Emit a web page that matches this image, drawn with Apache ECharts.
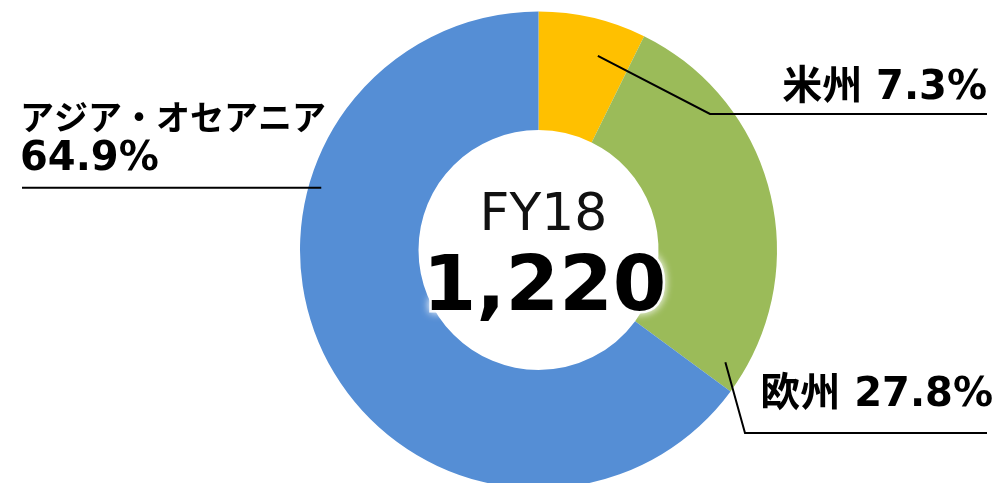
<!DOCTYPE html>
<html>
<head>
<meta charset="utf-8">
<script src="https://cdn.jsdelivr.net/npm/echarts@6/dist/echarts.min.js"></script>
<style>
  html, body { margin: 0; padding: 0; background: #fff; }
  #chart { width: 1002px; height: 483px; }
</style>
</head>
<body>
<div id="chart"></div>
<script>
// データ（FY18 地域別構成比）
const regions = ["米州", "欧州", "アジア・オセアニア"];
const shares = [7.3, 27.8, 64.9];
const colors = ["#FFC000", "#9BBB59", "#558ED5"];
const fiscalYear = "FY18";
const total = 1220;

const chart = echarts.init(document.getElementById("chart"));

const cx = 538.5;
const cy = 250;

// ラベル線の起点（中心からの角度・半径）とテキスト位置
const labelPlace = [
  { angle: 17, r: 203, elbow: [710, 114], end: 987, tx: 987, ty: 89, align: "right" },
  { angle: 121, r: 218, elbow: [745, 433], end: 987, tx: 993, ty: 396, align: "right" },
  { angle: 286, r: 226, elbow: null, end: 22, tx: 20, ty: 139, align: "left" },
];

function polar(angle, r) {
  const a = (angle * Math.PI) / 180;
  return [cx + r * Math.sin(a), cy - r * Math.cos(a)];
}

const font = '"DejaVu Sans", "Noto Sans CJK JP", sans-serif';

const pieData = regions.map((name, i) => ({ name: name, value: shares[i] }));

const option = {
  animation: false,
  title: [
    {
      text: fiscalYear,
      left: cx,
      top: 185,
      textAlign: "center",
      textStyle: { fontFamily: font, fontSize: 52, fontWeight: "normal", color: "#111" },
    },
    {
      text: total.toLocaleString("en-US"),
      left: cx + 1,
      top: 247,
      textAlign: "center",
      textStyle: {
        fontFamily: font,
        fontSize: 77,
        fontWeight: "bold",
        color: "#000",
        textBorderColor: "rgba(255,255,255,0.9)",
        textBorderWidth: 5,
        textShadowColor: "#fff",
        textShadowBlur: 8,
      },
    },
  ],
  series: [
    {
      // 色付きのドーナツ
      type: "pie",
      z: 2,
      center: [cx, cy],
      radius: [120, 238.5],
      startAngle: 90,
      clockwise: true,
      data: pieData.map((d, i) => ({ ...d, itemStyle: { color: colors[i] } })),
      label: { show: false },
      labelLine: { show: false },
      emphasis: { disabled: true },
    },
    {
      // ラベルと引き出し線（ドーナツの上に描く）
      type: "pie",
      z: 3,
      silent: true,
      center: [cx, cy],
      radius: [120, 238.5],
      startAngle: 90,
      clockwise: true,
      avoidLabelOverlap: false,
      itemStyle: { color: "rgba(0,0,0,0)" },
      data: pieData,
      label: {
        show: true,
        position: "outside",
        formatter: (p) =>
          p.dataIndex === 2
            ? "{n|" + p.name + "}\n{p|" + p.value.toFixed(1) + "%}"
            : "{p|" + p.name + " " + p.value.toFixed(1) + "%}",
        rich: {
          n: { fontFamily: '"Noto Sans CJK JP", sans-serif', fontSize: 34, fontWeight: "bold", color: "#000", lineHeight: 42 },
          p: { fontFamily: font, fontSize: 40, fontWeight: "bold", color: "#000", lineHeight: 44 },
        },
      },
      labelLine: {
        show: true,
        lineStyle: { color: "#000", width: 2 },
      },
      labelLayout: (params) => {
        const c = labelPlace[params.dataIndex];
        const start = polar(c.angle, c.r);
        const elbow = c.elbow || start;
        return {
          x: c.tx,
          y: c.ty,
          align: c.align,
          verticalAlign: "middle",
          labelLinePoints: [start, elbow, [c.end, elbow[1]]],
        };
      },
      emphasis: { disabled: true },
    },
  ],
};

chart.setOption(option);
</script>
</body>
</html>
